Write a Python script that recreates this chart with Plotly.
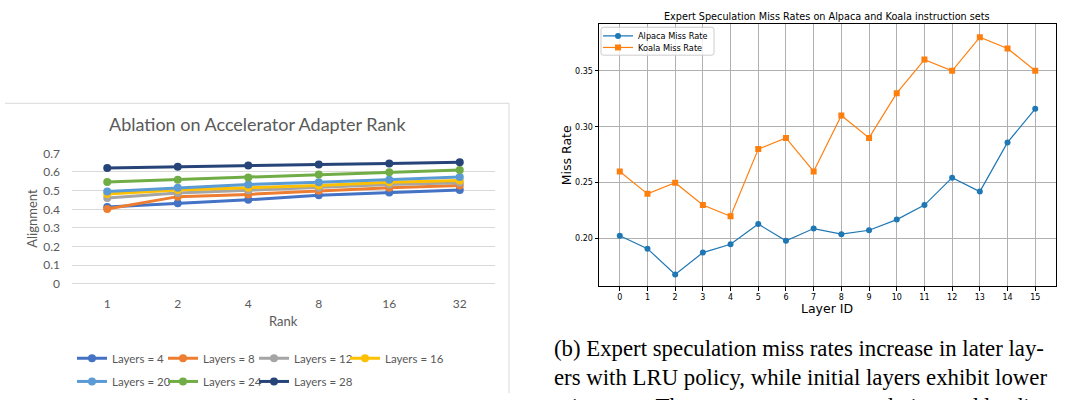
import plotly.graph_objects as go

# ---------------- data ----------------
ranks = ["1", "2", "4", "8", "16", "32"]
y_ticks_left = [0, 0.1, 0.2, 0.3, 0.4, 0.5, 0.6, 0.7]
y_ticktext_left = ["0", "0.1", "0.2", "0.3", "0.4", "0.5", "0.6", "0.7"]

layer_names = ["Layers = 4", "Layers = 8", "Layers = 12", "Layers = 16",
               "Layers = 20", "Layers = 24", "Layers = 28"]
layers_4 = [0.413, 0.433, 0.451, 0.476, 0.490, 0.504]
layers_8 = [0.402, 0.468, 0.480, 0.499, 0.516, 0.528]
layers_12 = [0.461, 0.487, 0.502, 0.516, 0.533, 0.542]
layers_16 = [0.482, 0.504, 0.516, 0.528, 0.545, 0.554]
layers_20 = [0.495, 0.516, 0.533, 0.545, 0.559, 0.573]
layers_24 = [0.547, 0.559, 0.571, 0.587, 0.598, 0.611]
layers_28 = [0.621, 0.628, 0.635, 0.640, 0.645, 0.652]
layer_colors = ["#4472C4", "#ED7D31", "#A5A5A5", "#FFC000",
                "#5B9BD5", "#70AD47", "#264478"]

layer_ids = list(range(16))
alpaca_miss = [0.2025, 0.191, 0.168, 0.1875, 0.195, 0.213, 0.198, 0.209,
               0.204, 0.2075, 0.217, 0.230, 0.2545, 0.242, 0.286, 0.316]
koala_miss = [0.26, 0.24, 0.25, 0.23, 0.22, 0.28, 0.29, 0.26,
              0.31, 0.29, 0.33, 0.36, 0.35, 0.38, 0.37, 0.35]
y_ticks_right = [0.20, 0.25, 0.30, 0.35]
y_ticktext_right = ["0.20", "0.25", "0.30", "0.35"]

caption_lines = [
    "(b) Expert speculation miss rates increase in later lay-",
    "ers with LRU policy, while initial layers exhibit lower",
    "miss rates. The average expert speculation and loading",
]

# ---------------- helpers (pixel -> paper) ----------------
W, H = 1067, 400


def px(x):
    return x / W


def py(y):
    return 1 - y / H


XL_FONT = "Lato, Carlito, Calibri, sans-serif"
XL_GREY = "#595959"
MPL_FONT = "DejaVu Sans"

fig = go.Figure()
legends = {}

# ---------------- left: rank ablation ----------------
# Excel-style legend: two rows, fixed-width columns
legend_cols = [72, 163, 254, 345]
legend_rows = [364, 388]
series = [layers_4, layers_8, layers_12, layers_16, layers_20, layers_24, layers_28]
for i, (name, vals, col) in enumerate(zip(layer_names, series, layer_colors)):
    key = "legend" if i == 0 else f"legend{i + 1}"
    fig.add_trace(go.Scatter(
        x=ranks, y=vals, name=name, mode="lines+markers",
        line=dict(color=col, width=3),
        marker=dict(color=col, size=8, symbol="circle"),
        xaxis="x", yaxis="y", legend=key,
    ))
    legends[key] = dict(
        x=px(legend_cols[i % 4]), y=py(legend_rows[i // 4]),
        xanchor="left", yanchor="middle", orientation="h",
        font=dict(family=XL_FONT, size=11.5, color=XL_GREY),
        bgcolor="rgba(0,0,0,0)", borderwidth=0,
    )

# ---------------- right: miss rates ----------------
right_series = [
    ("Alpaca Miss Rate", alpaca_miss, "#1f77b4", "circle", 29),
    ("Koala Miss Rate", koala_miss, "#ff7f0e", "square", 41),
]
for j, (name, vals, col, sym, ly) in enumerate(right_series):
    key = f"legend{8 + j}"
    fig.add_trace(go.Scatter(
        x=layer_ids, y=vals, name=name, mode="lines+markers",
        line=dict(color=col, width=1.2),
        marker=dict(color=col, size=6, symbol=sym),
        xaxis="x2", yaxis="y2", legend=key,
    ))
    legends[key] = dict(
        x=px(598), y=py(ly), xanchor="left", yanchor="middle",
        font=dict(family=MPL_FONT, size=8.2, color="black"),
        bgcolor="rgba(0,0,0,0)", borderwidth=0,
    )

annotations = [
    dict(text="Ablation on Accelerator Adapter Rank", x=px(257), y=py(120),
         font=dict(family=XL_FONT, size=18, color=XL_GREY)),
    dict(text="Alignment", x=px(32), y=py(219), textangle=-90,
         font=dict(family=XL_FONT, size=13, color=XL_GREY)),
    dict(text="Rank", x=px(283), y=py(325),
         font=dict(family=XL_FONT, size=13, color=XL_GREY)),
    dict(text="Expert Speculation Miss Rates on Alpaca and Koala instruction sets",
         x=px(827), y=py(9), font=dict(family=MPL_FONT, size=9.7, color="black")),
    dict(text="Miss Rate", x=px(566), y=py(153), textangle=-90,
         font=dict(family=MPL_FONT, size=12.5, color="black")),
    dict(text="Layer ID", x=px(827), y=py(312),
         font=dict(family=MPL_FONT, size=12.5, color="black")),
]
for a in annotations:
    a.update(xref="paper", yref="paper", showarrow=False,
             xanchor="center", yanchor="middle")

for line_text, yc in zip(caption_lines, [354, 384, 414]):
    annotations.append(dict(
        text=line_text, x=px(552), y=py(yc), xref="paper", yref="paper",
        xanchor="left", yanchor="middle", showarrow=False,
        font=dict(family="Liberation Serif, Times New Roman, serif", size=22.8,
                  color="black"),
    ))


def rounded_box(x0, y0, x1, y1, r):
    """SVG path (paper coords) for a rectangle with rounded corners, given in pixels."""
    return (f"M {px(x0 + r)},{py(y0)} L {px(x1 - r)},{py(y0)} "
            f"Q {px(x1)},{py(y0)} {px(x1)},{py(y0 + r)} "
            f"L {px(x1)},{py(y1 - r)} Q {px(x1)},{py(y1)} {px(x1 - r)},{py(y1)} "
            f"L {px(x0 + r)},{py(y1)} Q {px(x0)},{py(y1)} {px(x0)},{py(y1 - r)} "
            f"L {px(x0)},{py(y0 + r)} Q {px(x0)},{py(y0)} {px(x0 + r)},{py(y0)} Z")


shapes = [
    dict(type="line", xref="paper", yref="paper", x0=px(5), x1=px(509),
         y0=py(99), y1=py(99), line=dict(color="#d9d9d9", width=1)),
    dict(type="line", xref="paper", yref="paper", x0=px(509), x1=px(509),
         y0=py(99), y1=py(400), line=dict(color="#d9d9d9", width=1)),
    dict(type="path", xref="paper", yref="paper",
         path=rounded_box(601, 20, 714, 49, 2.5),
         fillcolor="rgba(255,255,255,0.8)", line=dict(color="#cccccc", width=1),
         layer="above"),
]

fig.update_layout(
    width=W, height=H,
    margin=dict(l=0, r=0, t=0, b=0),
    paper_bgcolor="white", plot_bgcolor="white",
    showlegend=True,
    annotations=annotations,
    shapes=shapes,
    **legends,
    xaxis=dict(
        domain=[px(72), px(495)], anchor="y", type="category",
        range=[-0.5, 5.5], showgrid=False, zeroline=False, showline=False,
        ticks="", tickfont=dict(family=XL_FONT, size=12, color=XL_GREY),
        ticklabelstandoff=11,
    ),
    yaxis=dict(
        domain=[py(286.7), py(151)], anchor="x", range=[0, 0.7],
        tickvals=y_ticks_left, ticktext=y_ticktext_left,
        showgrid=True, gridcolor="#d9d9d9", gridwidth=1,
        zeroline=True, zerolinecolor="#d9d9d9", zerolinewidth=1,
        showline=False, ticks="",
        tickfont=dict(family=XL_FONT, size=12, color=XL_GREY),
        ticklabelstandoff=11,
    ),
    xaxis2=dict(
        domain=[px(599), px(1056)], anchor="y2", range=[-0.75, 15.75],
        tickvals=layer_ids, ticks="outside", ticklen=3.5, tickwidth=0.8,
        tickcolor="black", showline=True, mirror=True, linecolor="black",
        linewidth=1, showgrid=True, gridcolor="#b0b0b0", gridwidth=0.8,
        zeroline=False, tickfont=dict(family=MPL_FONT, size=8, color="black"),
    ),
    yaxis2=dict(
        domain=[py(289), py(17)], anchor="x2", range=[0.1575, 0.3915],
        tickvals=y_ticks_right, ticktext=y_ticktext_right,
        ticks="outside", ticklen=3.5, tickwidth=0.8,
        tickcolor="black", showline=True, mirror=True, linecolor="black",
        linewidth=1, showgrid=True, gridcolor="#b0b0b0", gridwidth=0.8,
        zeroline=False, tickfont=dict(family=MPL_FONT, size=8, color="black"),
    ),
)

fig.write_html("out.html")
